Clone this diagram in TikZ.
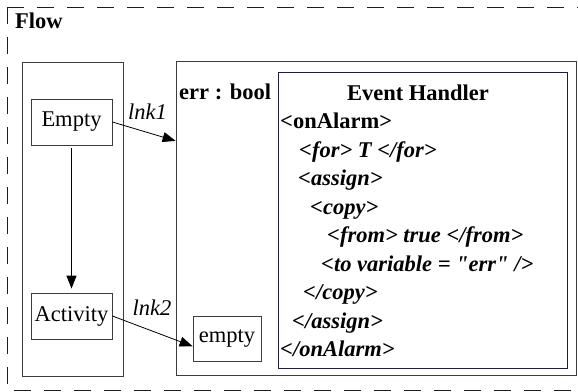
\documentclass[tikz,border=0pt]{standalone}
\usepackage{fontspec}
\setmainfont{Liberation Serif}[Ligatures=TeXOff]
\usepackage{xcolor}
\usepackage{tikz}
\usetikzlibrary{arrows.meta, positioning, calc}
\definecolor{myframe}{RGB}{30,30,30}
\definecolor{myboxline}{RGB}{60,60,60}
\definecolor{myhandler}{RGB}{30,30,60}
\newcommand{\bigfont}{\fontsize{22.5}{26}\selectfont}
\tikzset{
  flowframe/.style={draw=myframe, dash pattern=on 17pt off 13pt, line width=0.8pt},
  container/.style={rectangle, draw=myboxline, line width=0.8pt, inner sep=0pt},
  actbox/.style={rectangle, draw=myboxline, line width=0.8pt,
    minimum width=81pt, minimum height=46pt, inner sep=0pt, font=\bigfont},
  handlerbox/.style={rectangle, draw=myhandler, line width=0.9pt, inner sep=0pt},
  boldlabel/.style={anchor=base west, inner sep=0pt, font=\bigfont\bfseries},
  codeline/.style={anchor=base west, inner sep=0pt, font=\bigfont\bfseries\itshape},
  lnklabel/.style={anchor=base, inner sep=0pt, font=\bigfont\itshape},
  flowarrow/.style={-{Triangle[length=13pt, width=10pt]}, line width=0.8pt, color=black}
}

\begin{document}
\begin{tikzpicture}[x=1pt, y=-1pt]
  \useasboundingbox (0,0) rectangle (578,391);

  % Dashed flow frame (runs off to the right)
  \draw[flowframe] (7,7) -- (578,7);
  \draw[flowframe] (7,7) -- (7,390) -- (578,390);
  \node[boldlabel] (flowlbl) at (15,28) {Flow};

  % Left container with the two activities
  \node[container, minimum width=101pt, minimum height=314pt] (leftbox) at (72.5,219) {};
  \node[actbox] (empty) at (71.5,122) {Empty};
  \node[actbox] (activity) at (71.5,316) {Activity};

  % Right container: variable, event handler, empty
  \node[container, minimum width=400pt, minimum height=314pt] (rightbox) at (376,218) {};
  \node[boldlabel] (errvar) at (179,99) {err : bool};
  \node[handlerbox, minimum width=289pt, minimum height=296pt] (handler) at (422.5,220) {};
  \node[actbox, minimum width=68pt, minimum height=45pt] (emptyin) at (227,338.5) {empty};

  % Event handler code
  \node[anchor=base, inner sep=0pt, font=\bigfont\bfseries] (hdrtitle) at (418,100) {Event Handler};
  \node[boldlabel] (hdr0) at (280,128.5) {<onAlarm>};
  \node[codeline] (hdr1) at (299,157) {<for> T </for>};
  \node[codeline] (hdr2) at (298,185.5) {<assign>};
  \node[codeline] (hdr3) at (310,214) {<copy>};
  \node[codeline] (hdr4) at (327,242.5) {<from> true </from>};
  \node[codeline] (hdr5) at (321,271) {<to variable = "err" />};
  \node[codeline] (hdr6) at (303,299.5) {</copy>};
  \node[codeline] (hdr7) at (292,328) {</assign>};
  \node[codeline] (hdr8) at (280,356.5) {</onAlarm>};

  % Control flow and links
  \draw[flowarrow, shorten <=3pt, shorten >=4pt] (empty.south) -- (activity.north);
  \draw[flowarrow] (empty.east) -- ($(rightbox.north west)!0.255!(rightbox.south west)$);
  \draw[flowarrow] (activity.east) -- ($(emptyin.north west)!0.67!(emptyin.south west)$);
  \node[lnklabel] (lnk1) at (147.5,119) {lnk1};
  \node[lnklabel] (lnk2) at (152,315) {lnk2};
\end{tikzpicture}
\end{document}
